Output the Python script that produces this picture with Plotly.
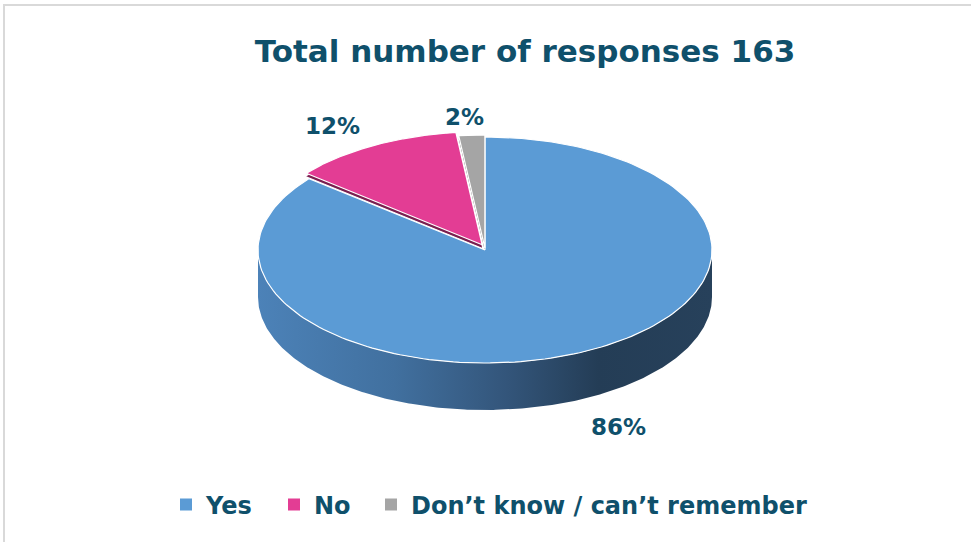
import numpy as np
import plotly.graph_objects as go

# ---- data ----
categories = ["Yes", "No", "Don’t know / can’t remember"]
counts = [140, 20, 3]
colors = ["#5b9bd5", "#e33d94", "#a5a5a5"]
shadow_colors = ["#2f5473", "#7a1f50", "#555555"]
title_text = "Total number of responses 163"

total = sum(counts)
pcts = [round(100 * c / total) for c in counts]

# ---- geometry (layout, in pixel-like axis units) ----
W, H = 971, 542
cx, cy = 485, 250
rx, ry = 227, 113
depth = 47
explode = [0, 6, 2]
TEXT = "#0f506b"
FONT = "DejaVu Sans"
legend_left = [166, 274, 371]

fig = go.Figure()

fr = np.cumsum([0] + counts) / total
slices = []
for i in range(len(counts)):
    a0, a1 = 2 * np.pi * fr[i], 2 * np.pi * fr[i + 1]
    mid = (a0 + a1) / 2
    dx = explode[i] * np.sin(mid)
    dy = -explode[i] * np.cos(mid)
    th = np.linspace(a0, a1, 200)
    xs = [cx + dx] + list(cx + dx + rx * np.sin(th)) + [cx + dx]
    ys = [cy + dy] + list(cy + dy - ry * np.cos(th)) + [cy + dy]
    slices.append((xs, ys))

# thin dark cut-faces of exploded slices
for i in (1, 2):
    xs, ys = slices[i]
    fig.add_trace(go.Scatter(x=xs, y=[v + 3 for v in ys], fill="toself", mode="lines",
                             line=dict(width=0), fillcolor=shadow_colors[i],
                             hoverinfo="skip", showlegend=False))

# front side wall of the big slice (visible from 90deg to 270deg)
th = np.linspace(np.pi / 2, 3 * np.pi / 2, 300)
topx = cx + rx * np.sin(th)
topy = cy - ry * np.cos(th)
wall_x = list(topx) + list(topx[::-1])
wall_y = list(topy) + list((topy + depth)[::-1])
fig.add_trace(go.Scatter(
    x=wall_x, y=wall_y, fill="toself", mode="lines", line=dict(width=0),
    fillgradient=dict(type="horizontal",
                      colorscale=[[0, "#4c82b8"], [0.3, "#41709f"], [0.55, "#33557a"],
                                  [0.75, "#243d56"], [1, "#27415b"]]),
    hoverinfo="skip", showlegend=False))

# top faces
for i in range(len(counts)):
    xs, ys = slices[i]
    fig.add_trace(go.Scatter(x=xs, y=ys, fill="toself", mode="lines",
                             line=dict(color="white", width=1.2), fillcolor=colors[i],
                             name=categories[i], hoverinfo="skip", showlegend=False))

# legend entries (one legend per entry so spacing can match)
legends = {}
for i in range(len(counts)):
    key = "legend" if i == 0 else f"legend{i + 1}"
    fig.add_trace(go.Scatter(x=[None], y=[None], mode="markers",
                             marker=dict(symbol="square", size=8, color=colors[i]),
                             name=categories[i], showlegend=True, legend=key))
    legends[key] = dict(orientation="h", x=legend_left[i] / W, xanchor="left",
                        y=1 - 505 / H, yanchor="middle",
                        font=dict(family=FONT, size=24, color=TEXT, weight="bold"),
                        itemsizing="constant", bgcolor="rgba(0,0,0,0)")

# data labels
label_pos = [(618, 427), (332, 126), (464, 117)]
for i, (lx, ly) in enumerate(label_pos):
    fig.add_annotation(x=lx, y=ly, text=f"{pcts[i]}%", showarrow=False,
                       font=dict(family=FONT, size=23, color=TEXT, weight="bold"),
                       xanchor="center", yanchor="middle")

# chart-area frame
fig.add_shape(type="rect", x0=4, y0=5, x1=W + 40, y1=H + 40,
              line=dict(color="#d9d9d9", width=2), layer="below")

fig.update_layout(
    width=W, height=H, margin=dict(l=0, r=0, t=0, b=0),
    paper_bgcolor="white", plot_bgcolor="white",
    xaxis=dict(range=[0, W], visible=False, fixedrange=True),
    yaxis=dict(range=[H, 0], visible=False, fixedrange=True),
    title=dict(text=title_text, x=525 / W, xanchor="center", y=1 - 51 / H, yanchor="middle",
               font=dict(family=FONT, size=31, color=TEXT, weight="bold")),
    showlegend=True,
    **legends,
)

fig.write_html("out.html", config={"displayModeBar": False},
               post_script="document.body.style.margin='0';")
